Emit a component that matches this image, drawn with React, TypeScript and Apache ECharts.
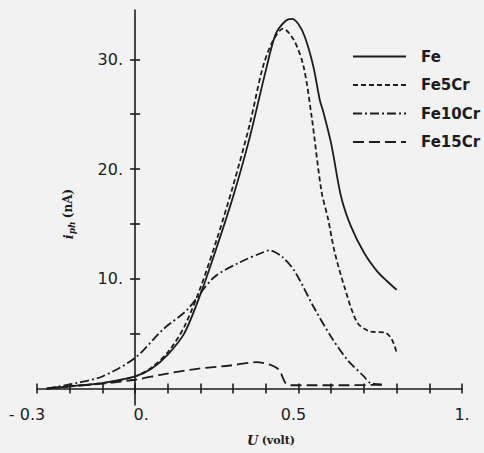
import React, { useEffect, useRef } from "react";
import * as echarts from "echarts";

const feX = [-0.27, -0.2, -0.1, 0, 0.05, 0.1, 0.15, 0.2, 0.25, 0.3, 0.35, 0.4, 0.43, 0.46, 0.48, 0.5, 0.52, 0.545, 0.565, 0.575, 0.6, 0.63, 0.66, 0.7, 0.74, 0.77, 0.8];
const feY = [0, 0.2, 0.5, 1.1, 1.8, 3.1, 5.0, 8.6, 12.9, 17.5, 22.8, 29.0, 32.3, 33.5, 33.7, 33.2, 32.0, 29.4, 26.3, 25.3, 22.3, 17.5, 14.8, 12.4, 10.7, 9.8, 9.0];

const fe5X = [-0.27, -0.2, -0.1, 0, 0.05, 0.1, 0.15, 0.2, 0.25, 0.3, 0.35, 0.39, 0.42, 0.453, 0.485, 0.515, 0.54, 0.57, 0.59, 0.61, 0.64, 0.68, 0.72, 0.765, 0.785, 0.8];
const fe5Y = [0, 0.2, 0.5, 1.1, 1.9, 3.3, 5.6, 9.2, 13.6, 18.5, 24.0, 29.2, 31.6, 32.8, 31.8, 29.4, 24.8, 18.0, 15.5, 12.5, 9.3, 6.0, 5.2, 5.1, 4.5, 3.3];

const fe10X = [-0.27, -0.18, -0.1, 0, 0.086, 0.16, 0.24, 0.32, 0.39, 0.41, 0.45, 0.49, 0.545, 0.6, 0.65, 0.7, 0.72, 0.76];
const fe10Y = [0, 0.5, 1.1, 2.8, 5.4, 7.2, 10.1, 11.5, 12.4, 12.6, 12.0, 10.6, 7.5, 4.7, 2.6, 1.1, 0.5, 0.35];

const fe15X = [-0.27, -0.2, -0.1, 0, 0.086, 0.19, 0.29, 0.37, 0.41, 0.44, 0.46, 0.475, 0.55, 0.65, 0.76];
const fe15Y = [0, 0.2, 0.45, 0.8, 1.3, 1.8, 2.1, 2.4, 2.2, 1.7, 0.5, 0.3, 0.3, 0.3, 0.35];

const seriesNames = ["Fe", "Fe5Cr", "Fe10Cr", "Fe15Cr"];
const xTickValues = [-0.3, -0.2, -0.1, 0, 0.1, 0.2, 0.3, 0.4, 0.5, 0.6, 0.7, 0.8, 0.9, 1.0];
const xLabelValues = [-0.3, 0, 0.5, 1];
const yTickValues = [5, 10, 15, 20, 25, 30];
const yLabelValues = [10, 20, 30];

const INK = "#1c1c1c";
const BG = "#f2f2f2";

const pairs = (xs: number[], ys: number[]) => xs.map((x, i) => [x, ys[i]]);

const xLabelFmt = (v: number) => {
  if (Math.abs(v + 0.3) < 1e-6) return "{l|- 0.3}";
  if (Math.abs(v) < 1e-6) return "{r|0.}";
  if (Math.abs(v - 0.5) < 1e-6) return "{l2|0.5}";
  if (Math.abs(v - 1) < 1e-6) return "1.";
  return "";
};

export default function App() {
  const ref = useRef<HTMLDivElement>(null);
  useEffect(() => {
    if (!ref.current) return;
    const chart = echarts.init(ref.current, undefined, { renderer: "svg" });
    const tickFont = { color: INK, fontFamily: "DejaVu Sans", fontSize: 16 };
    const baseX = {
      type: "value",
      min: -0.3,
      max: 1.0,
      position: "bottom",
      splitLine: { show: false },
    };
    const baseY = {
      type: "value",
      min: -1.5,
      max: 34.5,
      position: "left",
      splitLine: { show: false },
    };
    const mk = (name: string, xs: number[], ys: number[], dash: any) => ({
      name,
      type: "line",
      data: pairs(xs, ys),
      showSymbol: false,
      symbol: "none",
      smooth: 0.3,
      lineStyle: { color: INK, width: 1.8, type: dash },
      itemStyle: { color: INK },
      xAxisIndex: 0,
      yAxisIndex: 0,
    });
    chart.setOption({
      animation: false,
      backgroundColor: BG,
      grid: { left: 37, right: 22, top: 10, bottom: 48 },
      xAxis: [
        {
          ...baseX,
          axisLine: { show: true, onZero: true, onZeroAxisIndex: 0, lineStyle: { color: INK, width: 1.6 } },
          axisTick: { show: true, inside: false, length: 5, customValues: xTickValues, lineStyle: { color: INK, width: 1.6 } },
          axisLabel: {
            show: true,
            customValues: xLabelValues,
            formatter: xLabelFmt,
            margin: 1,
            ...tickFont,
            rich: {
              l: { ...tickFont, padding: [0, 20, 0, 0] },
              l2: { ...tickFont, padding: [0, 10, 0, 0] },
              r: { ...tickFont, padding: [0, 0, 0, 12] },
            },
          },
        },
        {
          ...baseX,
          axisLine: { show: false, onZero: true, onZeroAxisIndex: 0 },
          axisTick: { show: true, inside: true, length: 5, customValues: xTickValues, lineStyle: { color: INK, width: 1.6 } },
          axisLabel: { show: false },
        },
      ],
      yAxis: [
        {
          ...baseY,
          axisLine: { show: true, onZero: true, onZeroAxisIndex: 0, lineStyle: { color: INK, width: 1.6 } },
          axisTick: { show: true, inside: false, length: 5, customValues: yTickValues, lineStyle: { color: INK, width: 1.6 } },
          axisLabel: { show: true, customValues: yLabelValues, formatter: (v: number) => `${v}.`, margin: -86, ...tickFont },
        },
        {
          ...baseY,
          axisLine: { show: false, onZero: true, onZeroAxisIndex: 0 },
          axisTick: { show: true, inside: true, length: 5, customValues: yTickValues, lineStyle: { color: INK, width: 1.6 } },
          axisLabel: { show: false },
        },
      ],
      legend: {
        orient: "vertical",
        left: 347,
        top: 44,
        itemWidth: 53,
        itemHeight: 16,
        itemGap: 13.5,
        data: seriesNames,
        itemStyle: { opacity: 0 },
        textStyle: { color: INK, fontFamily: "DejaVu Sans", fontSize: 15, fontWeight: "bold", padding: [0, 0, 0, 10] },
      },
      graphic: [
        {
          type: "text",
          x: 68,
          y: 214,
          rotation: Math.PI / 2,
          style: {
            text: "{i|i}{s|ph} {u|(nA)}",
            align: "center",
            verticalAlign: "middle",
            fill: INK,
            rich: {
              i: { fontFamily: "DejaVu Serif", fontStyle: "italic", fontWeight: "bold", fontSize: 13, fill: INK },
              s: { fontFamily: "DejaVu Serif", fontStyle: "italic", fontWeight: "bold", fontSize: 9, fill: INK, padding: [7, 0, 0, 0] },
              u: { fontFamily: "DejaVu Serif", fontWeight: "bold", fontSize: 12, fill: INK },
            },
          },
        },
        {
          type: "text",
          x: 271,
          y: 440,
          style: {
            text: "{u|U} {v|(volt)}",
            align: "center",
            verticalAlign: "middle",
            fill: INK,
            rich: {
              u: { fontFamily: "DejaVu Serif", fontStyle: "italic", fontWeight: "bold", fontSize: 13, fill: INK },
              v: { fontFamily: "DejaVu Serif", fontWeight: "bold", fontSize: 11, fill: INK },
            },
          },
        },
      ],
      series: [
        mk("Fe", feX, feY, "solid"),
        mk("Fe5Cr", fe5X, fe5Y, [5, 3]),
        mk("Fe10Cr", fe10X, fe10Y, [9, 3, 2, 3]),
        mk("Fe15Cr", fe15X, fe15Y, [11, 5]),
      ],
    });
    return () => chart.dispose();
  }, []);
  return (
    <div
      ref={ref}
      style={{ position: "fixed", left: 0, top: 0, width: 484, height: 453, background: BG }}
    />
  );
}
